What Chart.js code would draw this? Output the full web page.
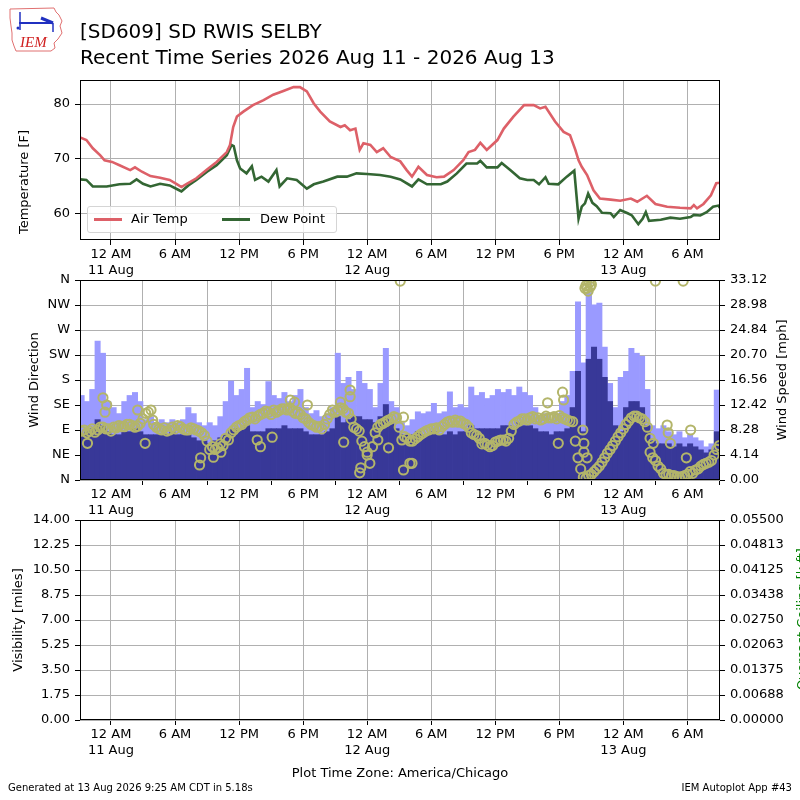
<!DOCTYPE html>
<html>
<head>
<meta charset="utf-8">
<script src="https://cdn.jsdelivr.net/npm/chart.js@4.4.1/dist/chart.umd.min.js"></script>
<style>
  html,body{margin:0;padding:0;background:#fff;}
  #page{position:relative;width:800px;height:800px;overflow:hidden;background:#fff;font-family:"DejaVu Sans",sans-serif;color:#000;}
  canvas{position:absolute;left:0;top:0;}
  .t{position:absolute;white-space:nowrap;z-index:5;}
  .vt{position:absolute;white-space:nowrap;transform:translate(-50%,-50%) rotate(-90deg);font-size:13px;z-index:5;}
</style>
</head>
<body>
<div id="page">
  <canvas id="c1" width="800" height="800"></canvas>
  <canvas id="c2" width="800" height="800"></canvas>
  <canvas id="c3" width="800" height="800"></canvas>

  <svg class="t" style="left:7px;top:6px" width="60" height="46" viewBox="0 0 60 46">
    <polyline points="3,3 47,2 49,6 52,9 55,15 53,20 55,27 51,33 47,37 48,42 44,45 9,45 7,40 5,34 5,27 4,20 3,12 3,3" fill="none" stroke="#e07070" stroke-width="1"/>
    <line x1="12" y1="17" x2="46" y2="17" stroke="#2030c0" stroke-width="2"/>
    <line x1="13" y1="6" x2="13" y2="24" stroke="#2030c0" stroke-width="1.5"/>
    <line x1="34" y1="12" x2="46" y2="17" stroke="#2030c0" stroke-width="3"/>
    <line x1="46" y1="17" x2="46" y2="26" stroke="#2030c0" stroke-width="1.5"/>
    <circle cx="11" cy="22" r="1.5" fill="#2030c0"/>
    <text x="13" y="41" font-family="Liberation Serif, serif" font-style="italic" font-size="15" fill="#d02020">IEM</text>
  </svg>

  <div class="t" style="left:80px;top:18px;font-size:20px;line-height:26px;">[SD609] SD RWIS SELBY<br>Recent Time Series 2026 Aug 11 - 2026 Aug 13</div>

  <div class="vt" style="left:23px;top:182px;">Temperature [F]</div>
  <div class="vt" style="left:33px;top:380px;">Wind Direction</div>
  <div class="vt" style="left:781px;top:380px;">Wind Speed [mph]</div>
  <div class="vt" style="left:17px;top:620px;">Visibility [miles]</div>
  <div class="vt" style="left:801px;top:619px;color:#008000;">Overcast Ceiling [k ft]</div>

  <div class="t" style="left:87px;top:206px;width:250px;height:27px;box-sizing:border-box;border:1px solid #d5d5d5;border-radius:3px;background:rgba(255,255,255,0.8);font-size:13px;">
    <div style="position:absolute;left:6px;top:11px;width:28px;height:3px;background:#dd6068;"></div>
    <div style="position:absolute;left:43px;top:4px;">Air Temp</div>
    <div style="position:absolute;left:134px;top:11px;width:28px;height:3px;background:#336633;"></div>
    <div style="position:absolute;left:172px;top:4px;">Dew Point</div>
  </div>

  <div class="t" style="left:0;width:800px;top:765px;text-align:center;font-size:13px;">Plot Time Zone: America/Chicago</div>
  <div class="t" style="left:8px;top:782px;font-size:10px;">Generated at 13 Aug 2026 9:25 AM CDT in 5.18s</div>
  <div class="t" style="right:8px;top:782px;font-size:10px;">IEM Autoplot App #43</div>
</div>

<script>
// ---------------- DATA ----------------
// hours relative to 12 AM 11 Aug (America/Chicago)
const timeRangeHours = [-2.9, 57.05];
const timeTickHours = [0, 6, 12, 18, 24, 30, 36, 42, 48, 54];
const timeTickLabels = [["12 AM", "11 Aug"], "6 AM", "12 PM", "6 PM", ["12 AM", "12 Aug"], "6 AM", "12 PM", "6 PM", ["12 AM", "13 Aug"], "6 AM"];

const tempHours = [-2.9,-2.3,-1.7,-1.0,-0.6,0.1,0.8,1.8,2.25,2.9,3.7,4.6,5.5,6.2,6.6,7.1,8.0,9.0,9.9,10.85,11.15,11.45,11.8,12.4,13.3,14.3,15.2,16.15,17.1,17.7,18.35,19.0,19.6,20.5,21.5,21.9,22.4,22.9,23.3,23.65,24.3,24.9,25.5,26.2,27.1,27.7,28.2,28.8,29.6,30.5,31.2,32.1,33.0,33.5,34.1,34.6,35.2,36.2,36.8,37.7,38.7,39.6,40.2,40.7,41.6,42.4,43.0,43.5,43.8,44.1,44.6,45.2,45.8,46.8,47.7,48.7,49.3,50.2,51.0,52.1,53.3,54.3,54.6,54.9,55.5,56.2,56.7,57.1];
const tempValues = [73.9,73.4,71.9,70.6,69.7,69.4,68.8,67.9,68.4,67.6,66.8,66.5,66.1,65.3,64.8,65.4,66.4,68.0,69.4,71.2,72.5,75.8,77.7,78.6,79.8,80.7,81.7,82.4,83.1,83.1,82.3,80.1,78.6,76.8,75.8,76.1,75.2,75.5,71.6,72.8,72.5,71.2,71.9,70.3,69.5,67.9,66.7,68.5,67.0,66.6,66.7,67.9,69.7,71.2,71.6,72.9,71.6,73.4,75.5,77.7,79.8,79.8,79.2,79.5,76.8,74.9,74.3,71.6,69.7,68.5,67.0,64.2,62.7,62.5,62.3,62.7,62.1,63.2,61.7,61.2,61.0,60.9,61.5,60.9,61.7,63.3,65.5,65.6];

const dewHours = [-2.9,-2.3,-1.7,-0.4,0.8,1.8,2.4,3.0,3.7,4.6,5.5,6.3,6.6,7.25,8.0,9.0,9.9,10.85,11.3,11.5,11.8,12.1,12.7,13.2,13.5,14.1,14.75,15.5,15.8,16.5,17.4,18.35,19.0,19.9,21.2,22.1,23.0,24.0,25.2,26.2,27.1,28.2,28.8,29.6,30.9,31.5,32.4,33.3,34.3,34.6,35.2,36.2,36.6,37.4,38.3,39.0,39.6,40.1,40.7,41.0,41.9,42.7,43.4,43.7,43.8,44.1,44.4,44.7,45.1,45.5,46.0,46.8,47.1,47.7,48.4,48.8,49.4,49.8,50.1,50.4,51.5,52.4,53.3,54.3,54.6,55.2,55.8,56.4,56.9,57.1];
const dewValues = [66.2,66.1,64.9,64.9,65.3,65.4,66.2,65.4,64.9,65.4,65.1,64.3,64.0,65.1,66.1,67.6,68.8,70.6,72.5,72.3,69.7,68.2,67.3,68.6,66.1,66.7,65.8,67.9,64.9,66.4,66.1,64.5,65.3,65.8,66.7,66.7,67.3,67.2,67.0,66.7,66.2,64.9,66.2,65.3,65.3,65.8,67.3,69.1,69.1,69.6,68.4,68.4,69.2,67.9,66.4,66.1,66.1,65.3,66.6,65.4,65.3,66.7,67.8,61.2,59.0,61.2,61.8,63.6,61.9,61.3,60.1,60.0,59.3,60.6,60.0,59.6,58.0,59.0,60.2,58.6,58.8,59.2,59.0,59.3,59.7,59.6,60.2,61.2,61.4,60.8];

const windHours = [
  -2.75,-2.25,-1.75,-1.25,-0.75,-0.25,0.25,0.75,1.25,1.75,
  2.25,2.75,3.25,3.75,4.25,4.75,5.25,5.75,6.25,6.75,
  7.25,7.75,8.25,8.75,9.25,9.75,10.25,10.75,11.25,11.75,
  12.25,12.75,13.25,13.75,14.25,14.75,15.25,15.75,16.25,16.75,
  17.25,17.75,18.25,18.75,19.25,19.75,20.25,20.75,21.25,21.75,
  22.25,22.75,23.25,23.75,24.25,24.75,25.25,25.75,26.25,26.75,
  27.25,27.75,28.25,28.75,29.25,29.75,30.25,30.75,31.25,31.75,
  32.25,32.75,33.25,33.75,34.25,34.75,35.25,35.75,36.25,36.75,
  37.25,37.75,38.25,38.75,39.25,39.75,40.25,40.75,41.25,41.75,
  42.25,42.75,43.25,43.75,44.25,44.75,45.25,45.75,46.25,46.75,
  47.25,47.75,48.25,48.75,49.25,49.75,50.25,50.75,51.25,51.75,
  52.25,52.75,53.25,53.75,54.25,54.75,55.25,55.75,56.25,56.75];
const gustValues = [
  14,13,15,23,21,13,12,11,13,14,
  14.5,13,10,10.5,9.5,10,9.5,10,9.5,10,
  12,11,9.5,9,9.5,9,10.5,13,16.4,14,
  15,18.5,12,13,12.5,16.3,14,13.5,14.5,13,
  14,15,12,11,11.5,10.5,11,12,21,16,
  17,15,18,16,15,12,16,21.8,13,12,
  9.5,9,10,11.3,11,11.3,12.7,11,11.3,14.6,
  12,12.5,12,15.4,14,14.5,13.5,14,15,14.5,
  15,14,15.4,14.5,14,12,10.5,11,10,11,
  13,14,18,29.5,19.4,31,29,29.3,22,16,
  12,17,18,21.8,21,20.5,15,9,8.5,9,
  8,7.5,8,7,7.5,7,6.5,5.5,6,14.9];
const speedValues = [
  7.5,8,8.5,10,9,8,7.5,7.5,8,8,
  8.5,8,7.5,7.5,7.5,7.5,7.5,8,7.5,7.5,
  7.5,7,6.5,6.5,6,6.5,7,7.5,8.5,8.5,
  8.5,9,8,8,8,8.5,8.5,8.5,9,8.5,
  8.5,8.5,8,7.5,7.5,7.5,8,8.5,10.5,9.5,
  10,10.5,10.5,10,10,9.5,10.5,12.5,9.5,8.5,
  7.5,7.5,7.5,8,7.5,7.5,8,7.5,7.5,8,
  7.5,8,8,9,8.5,8.5,8.5,8.5,8.5,9,
  9,8.5,9.5,9,9,8.5,8,8,7.5,8,
  8,8.5,12,18,8,20,22,20,17,13,
  9,8,12,13,13,12,9,6.5,6,6,
  6,5.5,6,5.5,6,5.5,5,4.5,5,8];
const dirValues = [
  88,85,92,90,95,92,95,98,96,100,
  95,102,120,126,95,90,88,95,98,92,
  90,92,88,80,55,55,65,75,85,95,
  100,108,113,115,120,122,126,125,128,130,
  120,118,110,100,95,92,110,126,125,128,
  120,95,88,60,30,85,100,105,110,112,
  72,75,70,78,85,90,92,90,100,106,
  108,106,100,85,80,65,63,62,70,72,
  75,100,106,110,112,110,108,115,112,110,
  112,108,105,40,5,8,15,25,40,55,
  70,85,100,112,115,110,95,40,25,12,
  10,8,5,8,15,18,25,30,35,55];
const dirHours2 = [
  -2.5,-2.0,-1.5,-1.0,-0.5,0.0,0.5,1.0,1.5,2.0,
  2.5,3.0,3.5,4.0,4.5,5.0,5.5,6.0,6.5,7.0,
  7.5,8.0,8.5,9.0,9.5,10.0,10.5,11.0,11.5,12.0,
  12.5,13.0,13.5,14.0,14.5,15.0,15.5,16.0,16.5,17.0,
  17.5,18.0,18.5,19.0,19.5,20.0,20.5,21.0,21.5,22.0,
  22.5,23.0,23.5,24.0,24.5,25.0,25.5,26.0,26.5,27.0,
  27.5,28.0,28.5,29.0,29.5,30.0,30.5,31.0,31.5,32.0,
  32.5,33.0,33.5,34.0,34.5,35.0,35.5,36.0,36.5,37.0,
  37.5,38.0,38.5,39.0,39.5,40.0,40.5,41.0,41.5,42.0,
  42.5,43.0,43.5,44.0,44.5,45.0,45.5,46.0,46.5,47.0,
  47.5,48.0,48.5,49.0,49.5,50.0,50.5,51.0,51.5,52.0,
  52.5,53.0,53.5,54.0,54.5,55.0,55.5,56.0,56.5,57.0];
const dirValues2 = [
  90,88,86,95,92,88,94,96,100,98,
  97,110,122,100,92,94,90,92,96,90,
  94,90,85,70,60,58,62,72,90,98,
  105,112,110,118,124,118,122,128,126,124,
  122,112,104,98,96,100,118,122,130,122,
  110,92,70,45,60,95,102,108,114,95,
  78,70,74,82,88,92,94,96,104,104,
  104,102,95,82,75,66,60,68,72,70,
  88,104,110,108,114,112,110,112,114,116,
  110,106,70,20,3,10,20,32,48,62,
  78,92,106,115,112,105,75,35,20,10,
  8,6,6,10,12,20,28,32,45,62];
const dirExtraHours = [-2.2,-0.75,-0.56,-0.4,2.5,3.2,3.9,8.3,8.4,9.6,10.3,13.7,14.0,15.1,16.8,17.2,18.4,21.5,21.8,22.4,22.4,23.3,23.4,24.0,25.0,26.0,27.1,27.4,27.4,28.0,28.2,40.9,41.9,42.3,42.4,44.2,44.3,44.3,44.4,44.5,44.6,44.7,44.8,44.9,45.0,44.6,50.5,50.8,51.0,52.1,52.2,52.4,53.6,53.9,54.3];
const dirExtraValues = [66,148,122,135,126,66,108,27,40,41,50,72,60,77,144,140,135,140,68,162,150,13,22,50,72,58,358,18,113,30,30,139,66,158,144,90,66,50,345,350,345,340,355,348,352,40,50,66,358,99,85,66,358,40,90];

const tempTicks = [60, 70, 80];
const tempRange = [55.1, 84.4];
const dirTickValues = [0, 45, 90, 135, 180, 225, 270, 315, 360];
const dirTickLabels = ["N", "NE", "E", "SE", "S", "SW", "W", "NW", "N"];
const spdTickValues = [0, 4.14, 8.28, 12.42, 16.56, 20.70, 24.84, 28.98, 33.12];
const spdTickLabels = ["0.00", "4.14", "8.28", "12.42", "16.56", "20.70", "24.84", "28.98", "33.12"];
const visTickValues = [0, 1.75, 3.5, 5.25, 7, 8.75, 10.5, 12.25, 14];
const visTickLabels = ["0.00", "1.75", "3.50", "5.25", "7.00", "8.75", "10.50", "12.25", "14.00"];
const ceilTickValues = [0, 0.006875, 0.01375, 0.020625, 0.0275, 0.034375, 0.04125, 0.048125, 0.055];
const ceilTickLabels = ["0.00000", "0.00688", "0.01375", "0.02063", "0.02750", "0.03438", "0.04125", "0.04813", "0.05500"];
const visValues = [];
const ceilValues = [];

// ---------------- STYLE / HELPERS ----------------
const FONT = { family: "'DejaVu Sans', sans-serif", size: 13 };
const GRID = '#b0b0b0';

function timeAxis(z) {
  return {
    type: 'linear', position: 'bottom', min: timeRangeHours[0], max: timeRangeHours[1], offset: false, z: z || 0,
    afterBuildTicks: s => { s.ticks = timeTickHours.map(v => ({ value: v })); },
    afterFit: s => { s.height = 40; },
    ticks: { autoSkip: false, maxRotation: 0, minRotation: 0, color: '#000', font: FONT, padding: 2, callback: (v, i) => timeTickLabels[i] },
    grid: { color: GRID, lineWidth: 1, tickLength: 5, tickColor: '#000', tickWidth: 1 },
    border: { display: false }
  };
}
function yAxis(pos, range, vals, labels, onChart, z) {
  return {
    type: 'linear', position: pos, min: range[0], max: range[1], z: z || 0,
    afterBuildTicks: s => { s.ticks = vals.map(v => ({ value: v })); },
    afterFit: s => { s.width = 80; },
    ticks: { color: '#000', font: FONT, padding: 5, autoSkip: false, callback: (v, i) => labels[i] },
    grid: { color: GRID, lineWidth: 1, tickLength: 5, tickColor: '#000', drawOnChartArea: onChart },
    border: { display: false }
  };
}
const framePlugin = {
  id: 'frame',
  afterDraw(chart) {
    const a = chart.chartArea, ctx = chart.ctx;
    ctx.save();
    ctx.strokeStyle = '#000';
    ctx.lineWidth = 1;
    ctx.strokeRect(Math.round(a.left) + 0.5, Math.round(a.top) + 0.5, Math.round(a.right - a.left) - 1, Math.round(a.bottom - a.top) - 1);
    ctx.restore();
  }
};
const pairs = (xs, ys) => xs.map((x, i) => ({ x: x, y: ys[i] }));
const common = { responsive: false, animation: false, events: [], plugins: { legend: { display: false }, tooltip: { enabled: false } } };

// ---------------- PANEL 1: Temperature ----------------
new Chart(document.getElementById('c1'), {
  type: 'line',
  data: {
    datasets: [
      { label: 'Air Temp', data: pairs(tempHours, tempValues), borderColor: '#dd6068', borderWidth: 2.6, pointRadius: 0, tension: 0, yAxisID: 'y' },
      { label: 'Dew Point', data: pairs(dewHours, dewValues), borderColor: '#336633', borderWidth: 2.6, pointRadius: 0, tension: 0, yAxisID: 'y' }
    ]
  },
  options: Object.assign({}, common, {
    layout: { padding: { top: 80, bottom: 520, left: 0, right: 80 } },
    scales: { x: timeAxis(), y: yAxis('left', tempRange, tempTicks, tempTicks.map(String), true) }
  }),
  plugins: [framePlugin]
});

// ---------------- PANEL 2: Wind ----------------
const dirPoints = pairs(windHours, dirValues).concat(pairs(dirHours2, dirValues2), pairs(dirExtraHours, dirExtraValues));
new Chart(document.getElementById('c2'), {
  type: 'bar',
  data: {
    datasets: [
      { type: 'line', label: 'Direction', data: dirPoints,
        showLine: false, pointRadius: 4.6, pointBorderWidth: 2, pointBorderColor: '#b3b56a', pointBackgroundColor: 'rgba(0,0,0,0)', borderColor: '#b3b56a', yAxisID: 'yDir', order: 0 },
      { type: 'bar', label: 'Speed', data: pairs(windHours, speedValues), backgroundColor: '#383898', borderWidth: 0,
        barPercentage: 1, categoryPercentage: 1, grouped: false, yAxisID: 'ySpd', order: 1 },
      { type: 'bar', label: 'Gust', data: pairs(windHours, gustValues), backgroundColor: '#9a9aff', borderWidth: 0,
        barPercentage: 1, categoryPercentage: 1, grouped: false, yAxisID: 'ySpd', order: 2 }
    ]
  },
  options: Object.assign({}, common, {
    layout: { padding: { top: 280, bottom: 280, left: 0, right: 0 } },
    scales: {
      x: timeAxis(1),
      yDir: yAxis('left', [0, 360], dirTickValues, dirTickLabels, true, 1),
      ySpd: yAxis('right', [0, 33.12], spdTickValues, spdTickLabels, false)
    }
  }),
  plugins: [framePlugin]
});

// ---------------- PANEL 3: Visibility / Ceiling ----------------
new Chart(document.getElementById('c3'), {
  type: 'line',
  data: {
    datasets: [
      { label: 'Visibility', data: visValues, yAxisID: 'yVis', borderColor: '#000', pointRadius: 0 },
      { label: 'Ceiling', data: ceilValues, yAxisID: 'yCeil', borderColor: '#008000', pointRadius: 0 }
    ]
  },
  options: Object.assign({}, common, {
    layout: { padding: { top: 520, bottom: 40, left: 0, right: 0 } },
    scales: {
      x: timeAxis(),
      yVis: yAxis('left', [0, 14], visTickValues, visTickLabels, true),
      yCeil: yAxis('right', [0, 0.055], ceilTickValues, ceilTickLabels, false)
    }
  }),
  plugins: [framePlugin]
});
</script>
</body>
</html>
